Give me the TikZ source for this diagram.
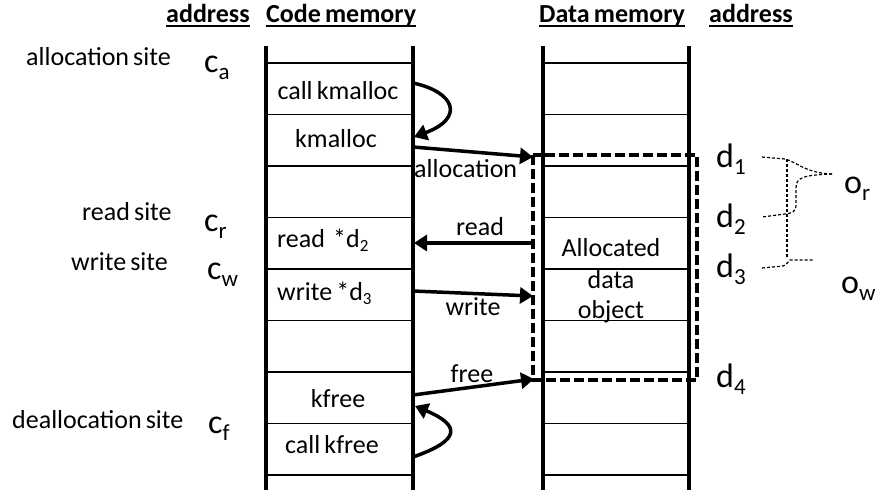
\documentclass[tikz,border=0pt]{standalone}
\usepackage{fontspec}
\setmainfont{Carlito}[WordSpace=0.7]
\usetikzlibrary{arrows.meta}

\newcommand\cellfont{\fontsize{26}{30}\selectfont}
\newcommand\hdrfont{\fontsize{26}{30}\selectfont\bfseries}
% large address symbol with subscript
\newcommand\bigsub[2]{{\fontsize{34}{38}\selectfont #1}\raisebox{-7pt}{\fontsize{23}{26}\selectfont #2}}
% subscript inside cell text
\newcommand\cellsub[1]{\raisebox{-4pt}{\fontsize{17}{19}\selectfont #1}}

\tikzset{
  cell/.style={font=\cellfont, inner sep=0pt, anchor=base},
  site/.style={font=\cellfont, inner sep=0pt, anchor=base west},
  addr/.style={inner sep=0pt, anchor=base west},
  hdr/.style={font=\hdrfont, inner sep=0pt, anchor=base west},
  rail/.style={line width=3.5pt},
  rowline/.style={line width=1.8pt},
  arr/.style={line width=3.5pt, -{Triangle[length=13pt,width=16pt]}},
  objbox/.style={line width=4pt, dash pattern=on 10pt off 4pt},
  brace/.style={line width=1.2pt, dash pattern=on 3pt off 2pt},
}

\begin{document}
\begin{tikzpicture}[x=1pt, y=-1pt]
\useasboundingbox (0,0) rectangle (883,490);

% headers
\node[hdr] (h1) at (166,22) {address};
\node[hdr] (h2) at (266,22) {Code memory};
\node[hdr] (h3) at (539,22) {Data memory};
\node[hdr] (h4) at (709,22) {address};
\foreach \h in {h1,h2,h3,h4}
  \draw[line width=2pt] ([yshift=-4pt]\h.base west) -- ([yshift=-4pt]\h.base east);

% memory rails
\draw[rail] (266,46) -- (266,490);
\draw[rail] (413,46) -- (413,490);
\draw[rail] (543,46) -- (543,490);
\draw[rail] (689,46) -- (689,490);

% memory rows
\foreach \y in {63,114.5,166,217.5,269,320.5,372,423.5,475} {
  \draw[rowline] (266,\y) -- (413,\y);
  \draw[rowline] (543,\y) -- (689,\y);
}

% site labels
\node[site] (sa) at (26,65) {allocation site};
\node[site] (sr) at (82,220) {read site};
\node[site] (sw) at (71,270) {write site};
\node[site] (sf) at (12,428) {deallocation site};

% code addresses
\node[addr] (ca) at (204,72) {\bigsub{c}{a}};
\node[addr] (cr) at (204,231) {\bigsub{c}{r}};
\node[addr] (cw) at (207,279) {\bigsub{c}{w}};
\node[addr] (cf) at (208,433) {\bigsub{c}{f}};

% code cells
\node[cell] (callkm) at (338,99) {call kmalloc};
\node[cell] (km) at (336,147) {kmalloc};
\node[cell, anchor=base west] (rd) at (277,247) {read\ \ *d\cellsub{2}};
\node[cell, anchor=base west] (wr) at (277,300) {write *d\cellsub{3}};
\node[cell] (kf) at (338,407) {kfree};
\node[cell] (callkf) at (332,453) {call kfree};

% allocated object text
\node[cell] (obj1) at (611,256) {Allocated};
\node[cell] (obj2) at (611,288) {data};
\node[cell] (obj3) at (611,318) {object};

% data addresses
\node[addr] (d1) at (716,167) {\bigsub{d}{1}};
\node[addr] (d2) at (716,227) {\bigsub{d}{2}};
\node[addr] (d3) at (716,277) {\bigsub{d}{3}};
\node[addr] (d4) at (716,387) {\bigsub{d}{4}};
\node[addr] (or) at (844,193) {\bigsub{o}{r}};
\node[addr] (ow) at (841,293) {\bigsub{o}{w}};

% allocated object box
\coordinate (boxtl) at (533,155);
\coordinate (boxbr) at (697,380);
\draw[objbox] (boxtl) rectangle (boxbr);

% connector end points
\coordinate (kmcall) at (413,83);
\coordinate (kmentry) at (414,137);
\coordinate (kmret) at (413,147);
\coordinate (objtop) at (533,157);
\coordinate (rdsrc) at (533,243);
\coordinate (rddst) at (414,243);
\coordinate (wrsrc) at (413,291);
\coordinate (wrdst) at (533,296);
\coordinate (frsrc) at (413,395);
\coordinate (frdst) at (534,379);
\coordinate (kfcall) at (413,457);
\coordinate (kfentry) at (415,406);

% calls and accesses
\draw[arr] (kmcall) .. controls (455,92) and (465,118) .. (kmentry);
\draw[arr] (kmret) -- (objtop);
\draw[arr] (rdsrc) -- (rddst);
\draw[arr] (wrsrc) -- (wrdst);
\draw[arr] (frsrc) -- (frdst);
\draw[arr] (kfcall) .. controls (462,440) and (460,425) .. (kfentry);

% connector labels
\node[cell, anchor=base west] (lalloc) at (414,177) {allocation};
\node[cell] (lread) at (480,235) {read};
\node[cell] (lwrite) at (473,315) {write};
\node[cell] (lfree) at (472,382) {free};

% groupings of addresses
\draw[brace] (762,157) -- (785,159) .. controls (797,162) and (805,173) .. (832,174);
\draw[brace] (832,174) .. controls (802,175) and (796,178) .. (796,188) -- (796,205)
  .. controls (796,212) and (792,213) .. (785,214) -- (762,217);
\draw[brace] (787,159) -- (787,258);
\draw[brace] (762,268) -- (783,266) .. controls (787,265) and (787,262) .. (790,260) -- (813,260);
\end{tikzpicture}
\end{document}
